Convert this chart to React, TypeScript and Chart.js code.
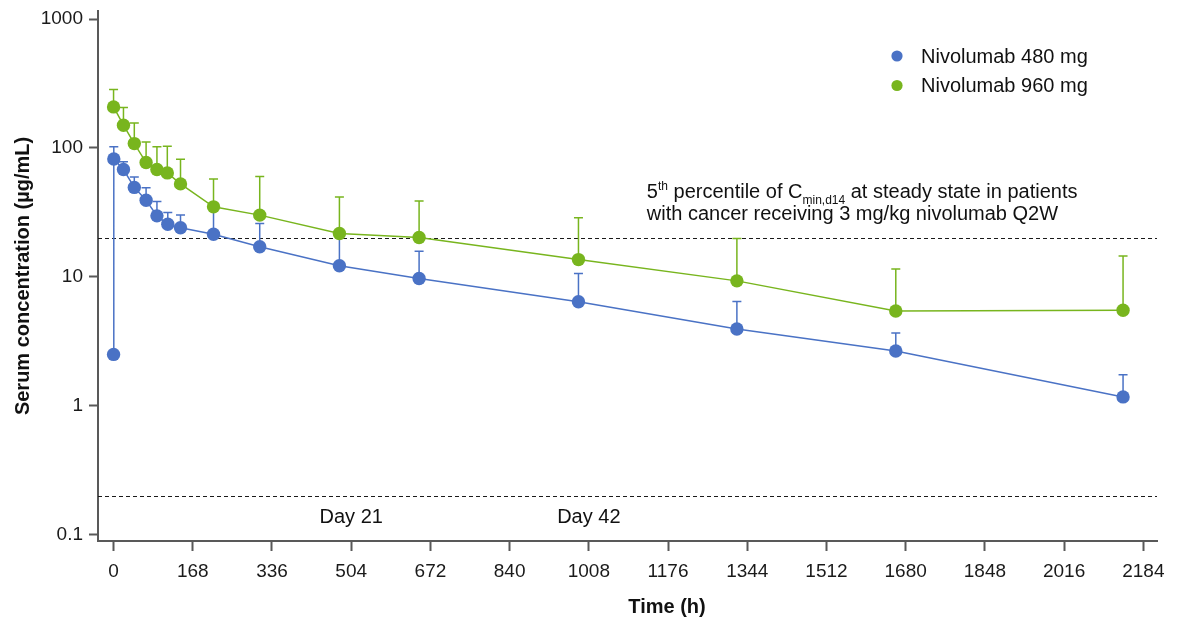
import React, { useEffect, useRef } from "react";
import { Chart, registerables } from "chart.js";

Chart.register(...registerables);

// ---------- data ----------
const seriesLabels = ["Nivolumab 480 mg", "Nivolumab 960 mg"];
const seriesColors = ["#4A72C5", "#78B51E"];

const time480 = [0, 0.5, 21, 44, 69, 92, 115, 142, 212, 310, 479, 648, 986, 1322, 1659, 2141];
const mean480 = [2.5, 82, 68, 49.4, 39.3, 29.7, 25.6, 24.0, 21.4, 17.1, 12.2, 9.7, 6.4, 3.94, 2.66, 1.17];
const upper480: (number | null)[] = [null, 102, 78, 59.6, 49, 38.4, 31.6, 30.1, 34, 25.9, 21, 15.8, 10.6, 6.43, 3.67, 1.74];

const time960 = [0, 21, 44, 69, 92, 114, 142, 212, 310, 479, 648, 986, 1322, 1659, 2141];
const mean960 = [208, 150, 108, 77, 68, 64, 52.6, 34.9, 30.1, 21.7, 20.2, 13.6, 9.3, 5.43, 5.5];
const upper960: (number | null)[] = [284, 206, 156, 111, 102, 103, 81.8, 57.3, 60.1, 41.7, 38.8, 28.7, 19.8, 11.5, 14.5];

const xTickValues = [0, 168, 336, 504, 672, 840, 1008, 1176, 1344, 1512, 1680, 1848, 2016, 2184];
const yTickValues = [0.1, 1, 10, 100, 1000];
const refLineValues = [20, 0.2];
const dayLabels = ["Day 21", "Day 42"];
const dayLabelHours = [504, 1008];
const annotationLine2 = "with cancer receiving 3 mg/kg nivolumab Q2W";
const annotationHour = 1131;
const xTitle = "Time (h)";
const yTitle = "Serum concentration (\u00B5g/mL)";

const FONT = "'Liberation Sans', Arial, Helvetica, sans-serif";
const AXIS_COLOR = "#595959";
const TEXT_COLOR = "#111111";

const seriesTimes = [time480, time960];
const seriesMeans = [mean480, mean960];
const seriesUppers = [upper480, upper960];

type Run = { text: string; size: number; dy: number };

function drawRuns(ctx: CanvasRenderingContext2D, runs: Run[], x: number, baseline: number) {
  let cx = x;
  runs.forEach((r) => {
    ctx.font = `${r.size}px ${FONT}`;
    ctx.fillText(r.text, cx, baseline + r.dy);
    cx += ctx.measureText(r.text).width;
  });
}

const overlayPlugin = {
  id: "overlay",
  beforeDatasetsDraw(chart: any) {
    const { ctx, chartArea, scales } = chart;
    const xs = scales.x;
    const ys = scales.y;
    ctx.save();
    // reference dashed lines
    ctx.strokeStyle = "#1a1a1a";
    ctx.lineWidth = 1.2;
    ctx.setLineDash([4, 3]);
    refLineValues.forEach((v) => {
      const py = Math.round(ys.getPixelForValue(v)) + 0.5;
      ctx.beginPath();
      ctx.moveTo(chartArea.left, py);
      ctx.lineTo(chartArea.right, py);
      ctx.stroke();
    });
    ctx.setLineDash([]);
    // upper error bars
    seriesTimes.forEach((times, i) => {
      ctx.strokeStyle = seriesColors[i];
      ctx.lineWidth = 1.5;
      times.forEach((h, k) => {
        const up = seriesUppers[i][k];
        if (up == null) return;
        const px = xs.getPixelForValue(h);
        const py0 = ys.getPixelForValue(seriesMeans[i][k]);
        const py1 = ys.getPixelForValue(up);
        ctx.beginPath();
        ctx.moveTo(px, py0);
        ctx.lineTo(px, py1);
        ctx.moveTo(px - 4.5, py1);
        ctx.lineTo(px + 4.5, py1);
        ctx.stroke();
      });
    });
    ctx.restore();
  },
  afterDraw(chart: any) {
    const { ctx, chartArea, scales } = chart;
    const xs = scales.x;
    const ys = scales.y;
    ctx.save();
    ctx.fillStyle = TEXT_COLOR;

    // legend
    seriesLabels.forEach((label, i) => {
      const cy = 56 + i * 29.5;
      ctx.fillStyle = seriesColors[i];
      ctx.beginPath();
      ctx.arc(897, cy, 5.6, 0, Math.PI * 2);
      ctx.fill();
      ctx.fillStyle = TEXT_COLOR;
      ctx.font = `20px ${FONT}`;
      ctx.textAlign = "left";
      ctx.textBaseline = "middle";
      ctx.fillText(label, 921, cy + 1);
    });

    // annotation
    ctx.textBaseline = "alphabetic";
    ctx.textAlign = "left";
    const lineY = ys.getPixelForValue(refLineValues[0]);
    const ax = xs.getPixelForValue(annotationHour);
    drawRuns(ctx, [
      { text: "5", size: 20, dy: 0 },
      { text: "th", size: 12, dy: -8 },
      { text: " percentile of C", size: 20, dy: 0 },
      { text: "min,d14", size: 12, dy: 6 },
      { text: " at steady state in patients", size: 20, dy: 0 },
    ], ax, lineY - 40.5);
    drawRuns(ctx, [{ text: annotationLine2, size: 20, dy: 0 }], ax, lineY - 18);

    // day labels
    ctx.font = `20px ${FONT}`;
    ctx.textAlign = "center";
    dayLabels.forEach((t, i) => {
      ctx.fillText(t, xs.getPixelForValue(dayLabelHours[i]), chartArea.bottom - 18.3);
    });

    // axis titles
    ctx.font = `bold 20px ${FONT}`;
    ctx.textAlign = "center";
    ctx.textBaseline = "middle";
    ctx.fillText(xTitle, 667, 607);
    ctx.translate(23, (chartArea.top + chartArea.bottom) / 2);
    ctx.rotate(-Math.PI / 2);
    ctx.fillText(yTitle, 0, 0);
    ctx.restore();
  },
};

export default function App() {
  const canvasRef = useRef<HTMLCanvasElement>(null);

  useEffect(() => {
    if (!canvasRef.current) return;
    const datasets = seriesLabels.map((label, i) => ({
      label,
      data: seriesTimes[i].map((t, k) => ({ x: t, y: seriesMeans[i][k] })),
      showLine: true,
      borderColor: seriesColors[i],
      backgroundColor: seriesColors[i],
      borderWidth: 1.5,
      pointRadius: 6.7,
      pointHoverRadius: 6.7,
      pointBorderWidth: 0,
      pointBackgroundColor: seriesColors[i],
      order: i === 0 ? 1 : 0,
    }));

    const chart = new Chart(canvasRef.current, {
      type: "scatter",
      data: { datasets },
      plugins: [overlayPlugin],
      options: {
        responsive: false,
        animation: false,
        devicePixelRatio: 1,
        layout: { padding: { top: 11, right: 23, left: 0, bottom: 0 } },
        plugins: {
          legend: { display: false },
          tooltip: { enabled: false },
          title: { display: false },
        },
        scales: {
          x: {
            type: "linear",
            min: -33,
            max: 2213,
            afterBuildTicks: (scale: any) => {
              scale.ticks = xTickValues.map((v) => ({ value: v }));
            },
            afterFit: (scale: any) => {
              scale.height = 83;
              scale.paddingLeft = 0;
              scale.paddingRight = 0;
            },
            ticks: {
              autoSkip: false,
              maxRotation: 0,
              padding: 9,
              color: "#1a1a1a",
              font: { family: FONT, size: 19 },
              callback: (v: any) => String(v),
            },
            grid: {
              display: true,
              drawOnChartArea: false,
              drawTicks: true,
              tickLength: 10,
              tickWidth: 2,
              tickColor: AXIS_COLOR,
              color: AXIS_COLOR,
            },
            border: { display: true, color: AXIS_COLOR, width: 2 },
            title: { display: false },
          },
          y: {
            type: "logarithmic",
            min: 0.0892,
            max: 1154,
            afterBuildTicks: (scale: any) => {
              scale.ticks = yTickValues.map((v) => ({ value: v }));
            },
            afterFit: (scale: any) => {
              scale.width = 98;
              scale.paddingTop = 0;
              scale.paddingBottom = 0;
            },
            ticks: {
              autoSkip: false,
              padding: 6,
              color: "#1a1a1a",
              font: { family: FONT, size: 19 },
              callback: (v: any) => String(v),
            },
            grid: {
              display: true,
              drawOnChartArea: false,
              drawTicks: true,
              tickLength: 9,
              tickWidth: 2,
              tickColor: AXIS_COLOR,
              color: AXIS_COLOR,
            },
            border: { display: true, color: AXIS_COLOR, width: 2 },
            title: { display: false },
          },
        },
      },
    } as any);

    return () => chart.destroy();
  }, []);

  return (
    <div style={{ position: "absolute", left: 0, top: 0, width: 1180, height: 624, background: "#fff" }}>
      <canvas ref={canvasRef} width={1180} height={624} style={{ display: "block", width: 1180, height: 624 }} />
    </div>
  );
}
